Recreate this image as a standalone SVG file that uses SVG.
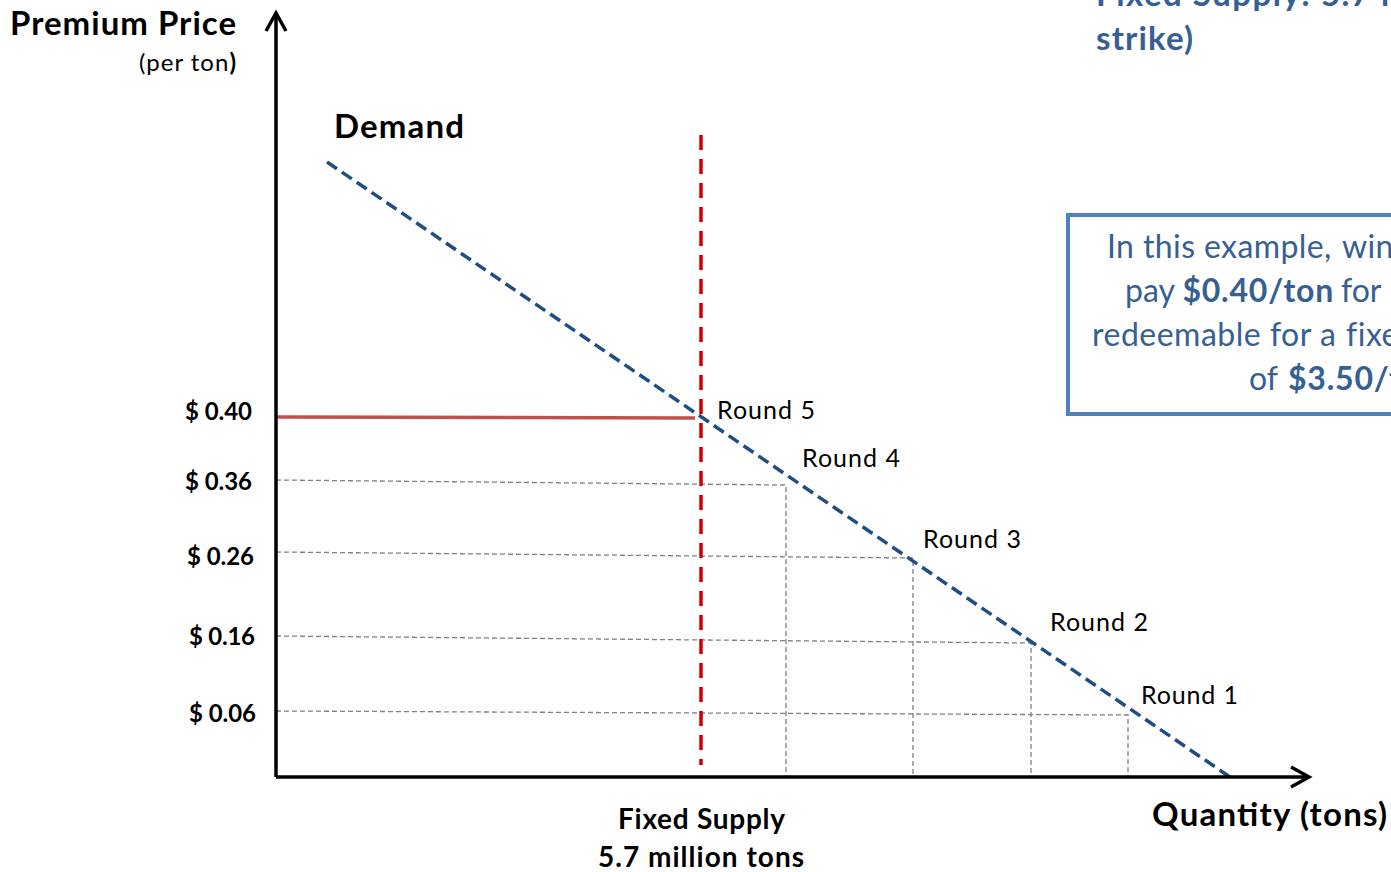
<svg xmlns="http://www.w3.org/2000/svg" width="1391" height="872" viewBox="0 0 1391 872">
<style>
text{font-family:Lato,"Open Sans",sans-serif;fill:#000}
.b{font-weight:bold}
.rl{font-size:25px}
.pl{font-size:24px;font-weight:bold}
.blue{fill:#376092}
.bb{font-weight:bold;letter-spacing:0.8px}
.grid{stroke:#808080;stroke-width:1.3;stroke-dasharray:5,3;fill:none}
.axis{stroke:#000;stroke-width:3.5;fill:none}
</style>
<rect width="1391" height="872" fill="#fff"/>
<g id="connectors">
  <g id="grid">
    <path class="grid" d="M276,480 L786,485 L786,777"/>
    <path class="grid" d="M276,552 L913,558 L913,777"/>
    <path class="grid" d="M276,636 L1031,643 L1031,777"/>
    <path class="grid" d="M276,711 L1128,715 L1128,777"/>
  </g>
  <line id="price-line" x1="276" y1="417" x2="695" y2="418" stroke="#C0504D" stroke-width="3.5"/>
  <line id="supply-line" x1="701" y1="135" x2="701" y2="765" stroke="#CC0000" stroke-width="3.5" stroke-dasharray="15,9"/>
  <line id="demand-line" x1="327" y1="162" x2="1230" y2="777" stroke="#1F4E85" stroke-width="3.5" stroke-dasharray="12,6"/>
  <g id="axes">
    <path class="axis" d="M276,777 L276,14"/>
    <path class="axis" d="M266,31 L276,13 L286,31"/>
    <path class="axis" d="M276,777 L1308,777"/>
    <path class="axis" d="M1291,767 L1309,777 L1291,787"/>
  </g>
</g>
<g id="y-title"><text class="b" x="10" y="35" font-size="33" textLength="226">Premium Price</text>
<text x="139" y="71" font-size="24" textLength="97">(per ton<tspan font-weight="bold">)</tspan></text></g>
<g id="demand-label"><text class="b" x="334" y="138" font-size="33" textLength="130">Demand</text></g>
<g id="price-labels">
  <text class="pl" x="185" y="420" textLength="67">$ 0.40</text>
  <text class="pl" x="185" y="490" textLength="67">$ 0.36</text>
  <text class="pl" x="187" y="565" textLength="67">$ 0.26</text>
  <text class="pl" x="189" y="645" textLength="66">$ 0.16</text>
  <text class="pl" x="189" y="722" textLength="67">$ 0.06</text>
</g>
<g id="round-labels">
  <text class="rl" x="717" y="419" textLength="98">Round 5</text>
  <text class="rl" x="802" y="467" textLength="98">Round 4</text>
  <text class="rl" x="923" y="548" textLength="98">Round 3</text>
  <text class="rl" x="1050" y="631" textLength="98">Round 2</text>
  <text class="rl" x="1141" y="704" textLength="97">Round 1</text>
</g>
<g id="supply-label">
  <text class="b" x="618" y="829" font-size="28" textLength="167">Fixed Supply</text>
  <text class="b" x="598" y="867" font-size="28" textLength="206">5.7 million tons</text>
</g>
<g id="x-title"><text class="b" x="1152" y="826" font-size="33" textLength="235">Quantity (tons)</text></g>
<g id="top-note">
  <text class="b blue" x="1096" y="6" font-size="33" letter-spacing="1.5">Fixed Supply: 5.7 million</text>
  <text class="b blue" x="1096" y="50" font-size="33" textLength="97">strike)</text>
</g>
<g id="example-box">
  <rect x="1068" y="215" width="360" height="199" fill="#fff" stroke="#4F81BD" stroke-width="4"/>
  <text class="blue" x="1107" y="258" font-size="32" letter-spacing="0.4">In this example, <tspan x="1342">winners</tspan></text>
  <text class="blue" x="1125" y="302" font-size="32">pay <tspan class="bb">$0.40/ton</tspan> <tspan x="1341">for</tspan></text>
  <text class="blue" x="1092" y="346" font-size="32" letter-spacing="0.5">redeemable for a <tspan x="1346">fixed</tspan></text>
  <text class="blue" x="1249" y="390" font-size="32">of <tspan class="bb" x="1288">$3.50/ton</tspan></text>
</g>
</svg>
